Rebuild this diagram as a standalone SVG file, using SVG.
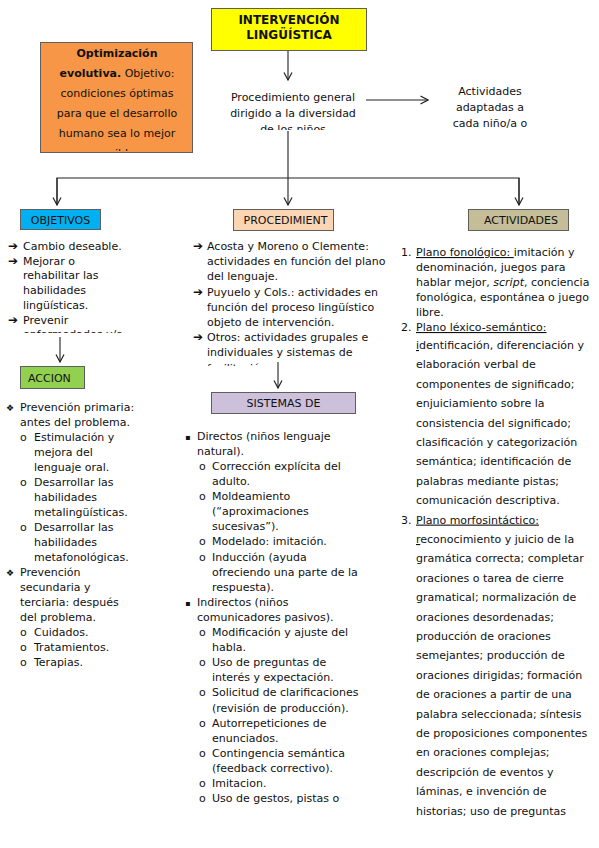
<svg xmlns="http://www.w3.org/2000/svg" width="599" height="848" viewBox="0 0 599 848">
<style>
.t{font-family:"DejaVu Sans",Verdana,sans-serif;font-size:11px;fill:#111}
.b{font-weight:bold}
.c{text-anchor:middle}
.u{text-decoration:underline}
.ar{font-family:"DejaVu Sans",sans-serif;font-size:12px;font-weight:bold;fill:#111}
.box{stroke:#5e5e5e;stroke-width:1}
.con{fill:none;stroke:#222;stroke-width:1.1}
</style>
<defs>
<marker id="ah" markerUnits="userSpaceOnUse" markerWidth="10" markerHeight="10" viewBox="0 0 10 10" refX="9.5" refY="5" orient="auto">
<path d="M2,1 L9.5,5 L2,9" fill="none" stroke="#222" stroke-width="1.2"/>
</marker>
<clipPath id="cpOrange"><rect x="40" y="43" width="153" height="108"/></clipPath>
<clipPath id="cpProc"><rect x="200" y="80" width="180" height="50"/></clipPath>
<clipPath id="cpObj"><rect x="0" y="235" width="190" height="98"/></clipPath>
<clipPath id="cpMid"><rect x="185" y="235" width="215" height="131"/></clipPath>
</defs>
<rect width="599" height="848" fill="#fff"/>

<g id="connectors">
<line class="con" x1="288" y1="50" x2="288" y2="80" marker-end="url(#ah)"/>
<line class="con" x1="366" y1="100" x2="428" y2="100" marker-end="url(#ah)"/>
<line class="con" x1="288" y1="131" x2="288" y2="205" marker-end="url(#ah)"/>
<polyline class="con" points="57,205 57,178 519,178 519,205"/>
<line class="con" x1="57" y1="178" x2="57" y2="205" marker-end="url(#ah)"/>
<line class="con" x1="519" y1="178" x2="519" y2="205" marker-end="url(#ah)"/>
<line class="con" x1="60" y1="337" x2="60" y2="362" marker-end="url(#ah)"/>
<line class="con" x1="278" y1="362" x2="278" y2="388" marker-end="url(#ah)"/>
</g>

<g id="title">
<rect class="box" x="211.5" y="8.5" width="155" height="42" fill="#ffff00"/>
<text class="t b c" style="font-size:12px" x="289" y="23.5">INTERVENCIÓN</text>
<text class="t b c" style="font-size:12px" x="289" y="39">LINGÜÍSTICA</text>
</g>

<g id="optimizacion">
<rect class="box" x="40.5" y="42.5" width="152" height="110" fill="#f79646"/>
<g clip-path="url(#cpOrange)">
<text class="t c" x="117" y="57"><tspan class="b">Optimización</tspan></text>
<text class="t c" x="117" y="77"><tspan class="b">evolutiva.</tspan> Objetivo:</text>
<text class="t c" x="117" y="97">condiciones óptimas</text>
<text class="t c" x="117" y="117">para que el desarrollo</text>
<text class="t c" x="117" y="137">humano sea lo mejor</text>
<text class="t c" x="117" y="157">posible.</text>
</g>
</g>

<g id="procedimiento-general">
<g clip-path="url(#cpProc)">
<text class="t c" x="293" y="101">Procedimiento general</text>
<text class="t c" x="293" y="117">dirigido a la diversidad</text>
<text class="t c" x="293" y="133">de los niños</text>
</g>
</g>

<g id="actividades-adaptadas">
<text class="t c" x="490" y="95">Actividades</text>
<text class="t c" x="490" y="111">adaptadas a</text>
<text class="t c" x="490" y="127">cada niño/a o</text>
</g>

<g id="objetivos">
<rect class="box" x="20.5" y="209.5" width="80" height="20" fill="#00b0f0"/>
<text class="t c" x="60.5" y="223.5" fill="#17365d">OBJETIVOS</text>
</g>

<g id="procedimient">
<rect class="box" x="233.5" y="209.5" width="100" height="21" fill="#fbd4b4"/>
<text class="t c" x="285.5" y="224">PROCEDIMIENT</text>
</g>

<g id="actividades">
<rect class="box" x="468.5" y="209.5" width="100" height="21" fill="#c4bd97"/>
<text class="t c" x="521" y="224">ACTIVIDADES</text>
</g>

<g id="objetivos-list">
<g clip-path="url(#cpObj)">
<text class="ar" x="8" y="250">➔</text><text class="t" x="23" y="250">Cambio deseable.</text>
<text class="ar" x="8" y="264.7">➔</text><text class="t" x="23" y="264.7">Mejorar o</text>
<text class="t" x="23" y="279.4">rehabilitar las</text>
<text class="t" x="23" y="294.1">habilidades</text>
<text class="t" x="23" y="308.8">lingüísticas.</text>
<text class="ar" x="8" y="323.5">➔</text><text class="t" x="23" y="323.5">Prevenir</text>
<text class="t" x="23" y="338.2">enfermedades y/o</text>
</g>
</g>

<g id="procedimient-list">
<g clip-path="url(#cpMid)">
<text class="ar" x="193" y="250">➔</text><text class="t" x="207" y="250">Acosta y Moreno o Clemente:</text>
<text class="t" x="207" y="265.2">actividades en función del plano</text>
<text class="t" x="207" y="280.4">del lenguaje.</text>
<text class="ar" x="193" y="295.6">➔</text><text class="t" x="207" y="295.6">Puyuelo y Cols.: actividades en</text>
<text class="t" x="207" y="310.8">función del proceso lingüístico</text>
<text class="t" x="207" y="326">objeto de intervención.</text>
<text class="ar" x="193" y="341.2">➔</text><text class="t" x="207" y="341.2">Otros: actividades grupales e</text>
<text class="t" x="207" y="356.4">individuales y sistemas de</text>
<text class="t" x="207" y="371.6">facilitación.</text>
</g>
</g>

<g id="accion">
<rect class="box" x="20.5" y="366.5" width="64" height="22" fill="#92d050"/>
<text class="t" x="28" y="382" fill="#1d2b0e">ACCION</text>
</g>

<g id="sistemas">
<rect class="box" x="211.5" y="392.5" width="144" height="21" fill="#ccc0da"/>
<text class="t c" x="283.5" y="407">SISTEMAS DE</text>
</g>

<g id="accion-list">
<text class="t" x="6" y="411"><tspan style="font-size:9px">❖</tspan></text><text class="t" x="20" y="411">Prevención primaria:</text>
<text class="t" x="20" y="426">antes del problema.</text>
<text class="t" x="20" y="441">o</text><text class="t" x="34" y="441">Estimulación y</text>
<text class="t" x="34" y="456">mejora del</text>
<text class="t" x="34" y="471">lenguaje oral.</text>
<text class="t" x="20" y="486">o</text><text class="t" x="34" y="486">Desarrollar las</text>
<text class="t" x="34" y="501">habilidades</text>
<text class="t" x="34" y="516">metalingüísticas.</text>
<text class="t" x="20" y="531">o</text><text class="t" x="34" y="531">Desarrollar las</text>
<text class="t" x="34" y="546">habilidades</text>
<text class="t" x="34" y="561">metafonológicas.</text>
<text class="t" x="6" y="576"><tspan style="font-size:9px">❖</tspan></text><text class="t" x="20" y="576">Prevención</text>
<text class="t" x="20" y="591">secundaria y</text>
<text class="t" x="20" y="606">terciaria: después</text>
<text class="t" x="20" y="621">del problema.</text>
<text class="t" x="20" y="636">o</text><text class="t" x="34" y="636">Cuidados.</text>
<text class="t" x="20" y="651">o</text><text class="t" x="34" y="651">Tratamientos.</text>
<text class="t" x="20" y="666">o</text><text class="t" x="34" y="666">Terapias.</text>
</g>

<g id="sistemas-list">
<text class="t" x="185" y="440"><tspan style="font-size:8px">▪</tspan></text><text class="t" x="197" y="440">Directos (niños lenguaje</text>
<text class="t" x="197" y="455">natural).</text>
<text class="t" x="199" y="470">o</text><text class="t" x="212" y="470">Corrección explícita del</text>
<text class="t" x="212" y="485">adulto.</text>
<text class="t" x="199" y="500">o</text><text class="t" x="212" y="500">Moldeamiento</text>
<text class="t" x="212" y="515.2">(“aproximaciones</text>
<text class="t" x="212" y="530.3">sucesivas”).</text>
<text class="t" x="199" y="545.4">o</text><text class="t" x="212" y="545.4">Modelado: imitación.</text>
<text class="t" x="199" y="560.5">o</text><text class="t" x="212" y="560.5">Inducción (ayuda</text>
<text class="t" x="212" y="575.6">ofreciendo una parte de la</text>
<text class="t" x="212" y="590.7">respuesta).</text>
<text class="t" x="185" y="605.8"><tspan style="font-size:8px">▪</tspan></text><text class="t" x="197" y="605.8">Indirectos (niños</text>
<text class="t" x="197" y="620.9">comunicadores pasivos).</text>
<text class="t" x="199" y="636">o</text><text class="t" x="212" y="636">Modificación y ajuste del</text>
<text class="t" x="212" y="651">habla.</text>
<text class="t" x="199" y="666.2">o</text><text class="t" x="212" y="666.2">Uso de preguntas de</text>
<text class="t" x="212" y="681.3">interés y expectación.</text>
<text class="t" x="199" y="696.4">o</text><text class="t" x="212" y="696.4">Solicitud de clarificaciones</text>
<text class="t" x="212" y="711.5">(revisión de producción).</text>
<text class="t" x="199" y="726.6">o</text><text class="t" x="212" y="726.6">Autorrepeticiones de</text>
<text class="t" x="212" y="741.7">enunciados.</text>
<text class="t" x="199" y="756.8">o</text><text class="t" x="212" y="756.8">Contingencia semántica</text>
<text class="t" x="212" y="771.9">(feedback correctivo).</text>
<text class="t" x="199" y="787">o</text><text class="t" x="212" y="787">Imitacion.</text>
<text class="t" x="199" y="802">o</text><text class="t" x="212" y="802">Uso de gestos, pistas o</text>
</g>

<g id="actividades-list">
<text class="t" x="401" y="256">1.</text><text class="t" x="416" y="256"><tspan class="u">Plano fonológico: </tspan>imitación y</text>
<text class="t" x="416" y="271">denominación, juegos para</text>
<text class="t" x="416" y="286">hablar mejor, <tspan font-style="italic">script</tspan>,  conciencia</text>
<text class="t" x="416" y="301">fonológica,  espontánea o juego</text>
<text class="t" x="416" y="316">libre.</text>
<text class="t" x="401" y="331">2.</text><text class="t" x="416" y="331"><tspan class="u">Plano léxico-semántico:  </tspan></text>
<text class="t" x="416" y="349"><tspan class="u">i</tspan>dentificación, diferenciación y</text>
<text class="t" x="416" y="368.4">elaboración verbal de</text>
<text class="t" x="416" y="387.8">componentes de significado;</text>
<text class="t" x="416" y="407.2">enjuiciamiento sobre la</text>
<text class="t" x="416" y="426.6">consistencia del significado;</text>
<text class="t" x="416" y="446">clasificación y categorización</text>
<text class="t" x="416" y="465.4">semántica; identificación de</text>
<text class="t" x="416" y="484.8">palabras mediante pistas;</text>
<text class="t" x="416" y="504.2">comunicación descriptiva.</text>
<text class="t" x="401" y="523.6">3.</text><text class="t" x="416" y="523.6"><tspan class="u">Plano morfosintáctico:  </tspan></text>
<text class="t" x="416" y="543"><tspan class="u">r</tspan>econocimiento y juicio de la</text>
<text class="t" x="416" y="562.4">gramática correcta; completar</text>
<text class="t" x="416" y="581.8">oraciones o tarea de cierre</text>
<text class="t" x="416" y="601.2">gramatical; normalización de</text>
<text class="t" x="416" y="620.6">oraciones desordenadas;</text>
<text class="t" x="416" y="640">producción de oraciones</text>
<text class="t" x="416" y="659.4">semejantes; producción de</text>
<text class="t" x="416" y="678.8">oraciones dirigidas; formación</text>
<text class="t" x="416" y="698.2">de oraciones a partir de una</text>
<text class="t" x="416" y="717.6">palabra seleccionada; síntesis</text>
<text class="t" x="416" y="737">de proposiciones componentes</text>
<text class="t" x="416" y="756.4">en oraciones complejas;</text>
<text class="t" x="416" y="775.8">descripción de eventos y</text>
<text class="t" x="416" y="795.2">láminas, e invención de</text>
<text class="t" x="416" y="814.6">historias; uso de preguntas</text>
</g>
</svg>
